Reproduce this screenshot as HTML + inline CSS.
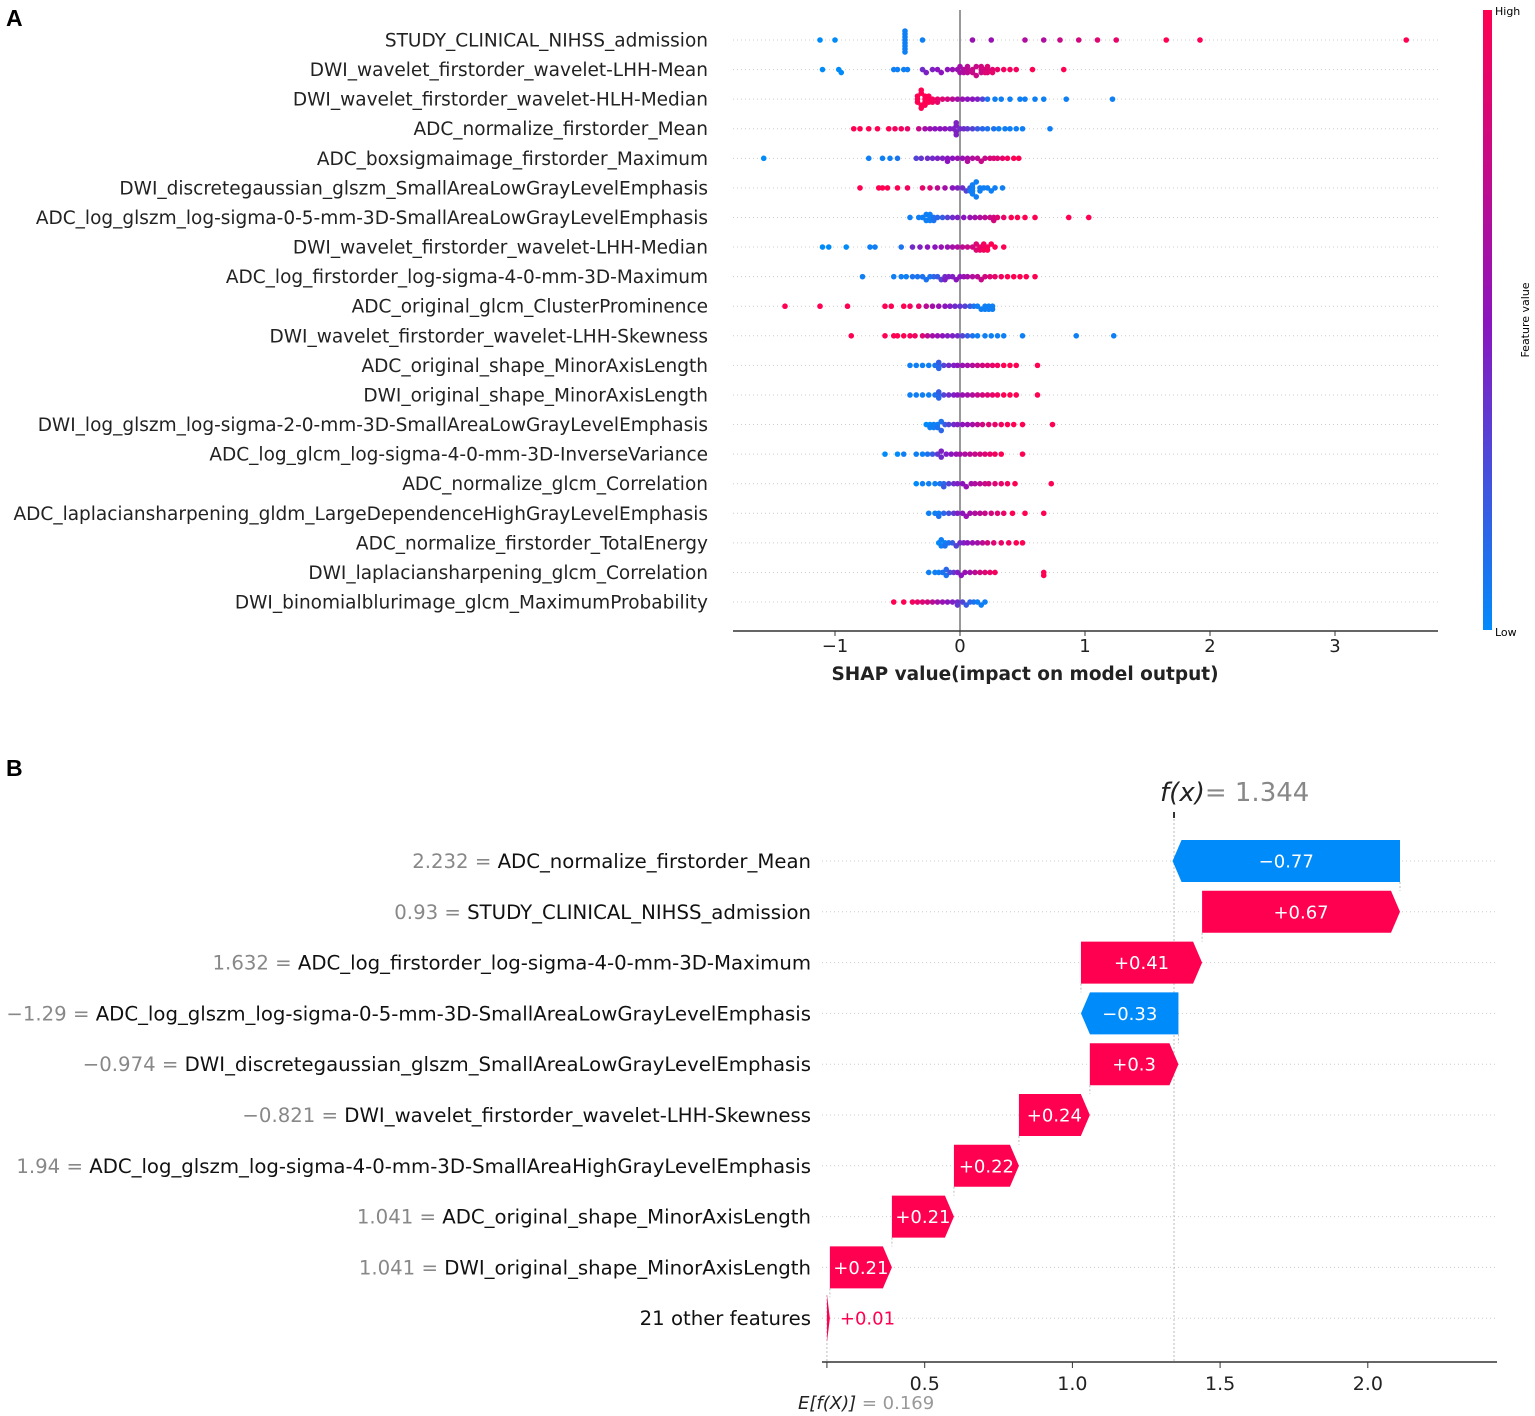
<!DOCTYPE html>
<html><head><meta charset="utf-8">
<style>
html,body{margin:0;padding:0;background:#fff;}
svg{display:block;font-family:"DejaVu Sans","Liberation Sans",sans-serif;}
</style></head>
<body>
<svg id="fig" width="1535" height="1416" viewBox="0 0 1535 1416" xmlns="http://www.w3.org/2000/svg">
<defs>
<linearGradient id="cbar" x1="0" y1="1" x2="0" y2="0">
<stop offset="0" stop-color="#008bfb"/><stop offset="0.5" stop-color="#8c14be"/><stop offset="1" stop-color="#ff0052"/>
</linearGradient>
</defs>
<text x="6" y="26" font-size="23" font-weight="bold" font-family="Liberation Sans, sans-serif">A</text>
<text x="6" y="776" font-size="23" font-weight="bold" font-family="Liberation Sans, sans-serif">B</text>
<g id="pa"></g>
<g id="pb"></g>
<rect x="1483" y="10" width="9" height="620" fill="url(#cbar)"/>
<text x="1495" y="15" font-size="11">High</text>
<text x="1495" y="636" font-size="11">Low</text>
<text transform="translate(1529,320) rotate(-90)" text-anchor="middle" font-size="11">Feature value</text>
</svg>
<script>
const featuresA = ["STUDY_CLINICAL_NIHSS_admission","DWI_wavelet_firstorder_wavelet-LHH-Mean","DWI_wavelet_firstorder_wavelet-HLH-Median","ADC_normalize_firstorder_Mean","ADC_boxsigmaimage_firstorder_Maximum","DWI_discretegaussian_glszm_SmallAreaLowGrayLevelEmphasis","ADC_log_glszm_log-sigma-0-5-mm-3D-SmallAreaLowGrayLevelEmphasis","DWI_wavelet_firstorder_wavelet-LHH-Median","ADC_log_firstorder_log-sigma-4-0-mm-3D-Maximum","ADC_original_glcm_ClusterProminence","DWI_wavelet_firstorder_wavelet-LHH-Skewness","ADC_original_shape_MinorAxisLength","DWI_original_shape_MinorAxisLength","DWI_log_glszm_log-sigma-2-0-mm-3D-SmallAreaLowGrayLevelEmphasis","ADC_log_glcm_log-sigma-4-0-mm-3D-InverseVariance","ADC_normalize_glcm_Correlation","ADC_laplaciansharpening_gldm_LargeDependenceHighGrayLevelEmphasis","ADC_normalize_firstorder_TotalEnergy","DWI_laplaciansharpening_glcm_Correlation","DWI_binomialblurimage_glcm_MaximumProbability"];
const shapVals = [
[-1.12,-1.0,-0.44,-0.44,-0.44,-0.44,-0.44,-0.44,-0.44,-0.44,-0.3,0.1,0.25,0.52,0.67,0.8,0.95,1.1,1.25,1.65,1.92,3.57],
[-1.1,-0.97,-0.95,-0.53,-0.5,-0.45,-0.42,-0.3,-0.27,-0.22,-0.18,-0.15,-0.1,-0.06,-0.02,0,0,0.03,0.03,0.06,0.06,0.06,0.1,0.1,0.13,0.13,0.17,0.17,0.17,0.2,0.2,0.22,0.22,0.22,0.26,0.26,0.3,0.35,0.4,0.45,0.58,0.83],
[-0.34,-0.34,-0.34,-0.31,-0.31,-0.31,-0.31,-0.28,-0.28,-0.28,-0.28,-0.25,-0.25,-0.25,-0.22,-0.22,-0.18,-0.18,-0.14,-0.1,-0.06,-0.02,0.02,0.06,0.1,0.14,0.18,0.22,0.28,0.33,0.4,0.48,0.52,0.6,0.67,0.85,1.22],
[-0.85,-0.8,-0.73,-0.66,-0.57,-0.52,-0.47,-0.42,-0.33,-0.28,-0.24,-0.2,-0.16,-0.12,-0.08,-0.05,-0.03,-0.03,-0.03,-0.03,0,0.03,0.06,0.1,0.14,0.18,0.22,0.27,0.31,0.36,0.4,0.45,0.5,0.72],
[-1.57,-0.73,-0.62,-0.56,-0.5,-0.35,-0.31,-0.26,-0.22,-0.18,-0.14,-0.1,-0.1,-0.06,-0.02,0.02,0.06,0.06,0.1,0.14,0.17,0.2,0.24,0.27,0.3,0.34,0.38,0.43,0.47],
[-0.8,-0.65,-0.62,-0.58,-0.5,-0.42,-0.3,-0.24,-0.18,-0.12,-0.06,-0.02,0.02,0.05,0.08,0.08,0.1,0.1,0.1,0.1,0.13,0.13,0.16,0.16,0.19,0.22,0.25,0.28,0.34],
[-0.4,-0.33,-0.3,-0.27,-0.27,-0.24,-0.24,-0.24,-0.21,-0.21,-0.18,-0.14,-0.1,-0.06,-0.02,0.03,0.08,0.12,0.16,0.2,0.24,0.27,0.27,0.3,0.35,0.41,0.46,0.52,0.6,0.87,1.03],
[-1.1,-1.05,-0.91,-0.72,-0.68,-0.47,-0.38,-0.32,-0.26,-0.2,-0.15,-0.1,-0.06,-0.02,0.02,0.06,0.1,0.13,0.13,0.16,0.16,0.19,0.19,0.19,0.22,0.22,0.25,0.28,0.35],
[-0.78,-0.53,-0.47,-0.43,-0.38,-0.34,-0.3,-0.27,-0.24,-0.21,-0.18,-0.15,-0.12,-0.12,-0.09,-0.06,-0.03,0,0.03,0.06,0.1,0.14,0.17,0.2,0.24,0.28,0.33,0.38,0.43,0.48,0.53,0.6],
[-1.4,-1.12,-0.9,-0.6,-0.55,-0.45,-0.4,-0.33,-0.27,-0.22,-0.17,-0.12,-0.08,-0.04,0,0.04,0.08,0.11,0.14,0.17,0.2,0.2,0.23,0.23,0.26,0.26],
[-0.87,-0.6,-0.53,-0.5,-0.45,-0.4,-0.36,-0.3,-0.26,-0.22,-0.18,-0.14,-0.1,-0.06,-0.02,0.02,0.06,0.1,0.14,0.2,0.25,0.3,0.35,0.5,0.93,1.23],
[-0.4,-0.35,-0.3,-0.25,-0.2,-0.17,-0.17,-0.17,-0.13,-0.09,-0.05,-0.02,0.02,0.06,0.1,0.14,0.18,0.22,0.26,0.3,0.35,0.4,0.45,0.62],
[-0.4,-0.35,-0.3,-0.25,-0.2,-0.17,-0.17,-0.17,-0.13,-0.09,-0.05,-0.02,0.02,0.06,0.1,0.14,0.18,0.22,0.26,0.3,0.35,0.4,0.45,0.62],
[-0.27,-0.24,-0.24,-0.21,-0.21,-0.18,-0.18,-0.15,-0.15,-0.12,-0.09,-0.05,-0.02,0.02,0.06,0.1,0.14,0.18,0.23,0.28,0.33,0.38,0.43,0.5,0.74],
[-0.6,-0.5,-0.45,-0.35,-0.3,-0.26,-0.22,-0.18,-0.15,-0.15,-0.11,-0.07,-0.03,0,0.04,0.08,0.12,0.16,0.2,0.24,0.28,0.33,0.5],
[-0.35,-0.3,-0.25,-0.2,-0.16,-0.13,-0.13,-0.09,-0.05,-0.02,0.02,0.05,0.09,0.12,0.16,0.2,0.23,0.28,0.33,0.38,0.44,0.73],
[-0.25,-0.2,-0.17,-0.17,-0.13,-0.09,-0.05,-0.02,0.02,0.05,0.08,0.12,0.16,0.2,0.25,0.3,0.35,0.42,0.52,0.67],
[-0.17,-0.15,-0.15,-0.12,-0.12,-0.09,-0.06,-0.03,0,0.03,0.06,0.1,0.14,0.18,0.22,0.27,0.33,0.39,0.45,0.5],
[-0.25,-0.2,-0.17,-0.14,-0.11,-0.11,-0.08,-0.05,-0.02,0.01,0.04,0.08,0.12,0.16,0.2,0.24,0.28,0.67,0.67],
[-0.53,-0.45,-0.38,-0.34,-0.3,-0.26,-0.22,-0.18,-0.14,-0.1,-0.06,-0.02,-0.02,0.02,0.05,0.08,0.11,0.14,0.17,0.2]
];
const featVals = [
[0,0,0.05,0.05,0.05,0.05,0.05,0.05,0.05,0.05,0.05,0.55,0.55,0.65,0.65,0.75,0.8,0.85,0.9,1,1,1],
[0,0,0,0.05,0.05,0.05,0.05,0.4,0.45,0.45,0.5,0.5,0.5,0.55,0.55,0.6,0.6,0.65,0.65,0.7,0.7,0.7,0.75,0.75,0.75,0.75,0.8,0.75,0.8,0.8,0.85,0.8,0.85,0.85,0.85,0.9,0.9,0.95,0.95,0.95,1,1],
[1,1,1,1,1,1,1,1,1,1,1,1,1,1,0.95,0.95,0.9,0.9,0.85,0.8,0.7,0.6,0.55,0.5,0.5,0.45,0.3,0.1,0.05,0.05,0.05,0.05,0.05,0.05,0.05,0.05,0.05],
[1,1,1,1,1,0.95,0.95,0.9,0.75,0.6,0.55,0.5,0.5,0.5,0.45,0.45,0.45,0.45,0.45,0.45,0.4,0.4,0.35,0.3,0.2,0.15,0.1,0.1,0.05,0.05,0.05,0.05,0.05,0.05],
[0,0.05,0.05,0.05,0.1,0.3,0.35,0.4,0.4,0.45,0.45,0.5,0.5,0.5,0.55,0.55,0.6,0.65,0.65,0.7,0.75,0.75,0.8,0.85,0.85,0.9,0.95,1,1],
[1,1,1,1,1,0.95,0.9,0.85,0.7,0.6,0.5,0.45,0.4,0.3,0.2,0.1,0.05,0.05,0.05,0.05,0.05,0.05,0.05,0.05,0.05,0.05,0.05,0.05,0.05],
[0.05,0.05,0.05,0.05,0.05,0.05,0.05,0.05,0.1,0.1,0.15,0.2,0.3,0.4,0.45,0.5,0.55,0.6,0.65,0.7,0.75,0.8,0.8,0.85,0.9,1,1,1,1,1,1],
[0,0,0,0.05,0.05,0.1,0.4,0.45,0.5,0.5,0.55,0.55,0.6,0.65,0.7,0.75,0.8,0.85,0.85,0.9,0.9,0.9,0.95,0.95,0.95,1,1,1,1],
[0.05,0.05,0.05,0.05,0.1,0.1,0.1,0.1,0.1,0.15,0.2,0.3,0.4,0.45,0.45,0.45,0.5,0.5,0.55,0.6,0.65,0.7,0.75,0.8,0.85,0.9,0.95,1,1,1,1,1],
[1,1,1,1,1,1,0.95,0.9,0.7,0.6,0.55,0.5,0.45,0.4,0.35,0.3,0.2,0.1,0.05,0.05,0.05,0.05,0.05,0.05,0.05,0.05],
[1,1,1,1,1,0.95,0.95,0.85,0.7,0.6,0.55,0.5,0.45,0.45,0.4,0.3,0.2,0.1,0.05,0.05,0.05,0.05,0.05,0.05,0.05,0.05],
[0.05,0.05,0.05,0.05,0.1,0.1,0.15,0.2,0.3,0.4,0.45,0.5,0.55,0.6,0.65,0.75,0.8,0.85,0.9,0.95,1,1,1,1],
[0.05,0.05,0.05,0.05,0.1,0.1,0.15,0.2,0.3,0.4,0.45,0.5,0.55,0.6,0.65,0.75,0.8,0.85,0.9,0.95,1,1,1,1],
[0,0,0.05,0.05,0.05,0.05,0.1,0.1,0.15,0.2,0.3,0.4,0.45,0.5,0.55,0.6,0.7,0.8,0.85,0.9,0.95,1,1,1,1],
[0,0,0.05,0.05,0.05,0.1,0.2,0.35,0.4,0.45,0.45,0.5,0.55,0.6,0.65,0.7,0.75,0.8,0.85,0.9,0.95,1,1],
[0,0.05,0.05,0.05,0.1,0.15,0.2,0.3,0.4,0.45,0.5,0.55,0.6,0.65,0.7,0.75,0.8,0.85,0.9,0.95,1,1],
[0.05,0.05,0.05,0.1,0.15,0.25,0.35,0.45,0.5,0.55,0.6,0.65,0.7,0.75,0.8,0.85,0.9,1,1,1],
[0,0.05,0.05,0.05,0.1,0.1,0.2,0.3,0.4,0.45,0.5,0.55,0.6,0.7,0.8,0.85,0.9,0.95,1,1],
[0.05,0.05,0.05,0.1,0.1,0.15,0.25,0.35,0.45,0.5,0.55,0.6,0.7,0.8,0.85,0.9,0.95,1,1],
[1,1,0.95,0.9,0.85,0.8,0.7,0.6,0.55,0.5,0.45,0.4,0.35,0.3,0.2,0.15,0.1,0.05,0.05,0.05]
];
const ticksA = [-1,0,1,2,3];

const featuresB = ["ADC_normalize_firstorder_Mean","STUDY_CLINICAL_NIHSS_admission","ADC_log_firstorder_log-sigma-4-0-mm-3D-Maximum","ADC_log_glszm_log-sigma-0-5-mm-3D-SmallAreaLowGrayLevelEmphasis","DWI_discretegaussian_glszm_SmallAreaLowGrayLevelEmphasis","DWI_wavelet_firstorder_wavelet-LHH-Skewness","ADC_log_glszm_log-sigma-4-0-mm-3D-SmallAreaHighGrayLevelEmphasis","ADC_original_shape_MinorAxisLength","DWI_original_shape_MinorAxisLength","21 other features"];
const featureValuesB = ["2.232","0.93","1.632","\u22121.29","\u22120.974","\u22120.821","1.94","1.041","1.041",""];
const contribB = [-0.77,0.67,0.41,-0.33,0.3,0.24,0.22,0.21,0.21,0.01];
const baseValue = 0.169;
const outputValue = 1.344;
const ticksB = [0.5,1.0,1.5,2.0];

const NS="http://www.w3.org/2000/svg";
function mk(parent,tag,attrs,text){const e=document.createElementNS(NS,tag);for(const k in attrs)e.setAttribute(k,attrs[k]);if(text!==undefined)e.textContent=text;parent.appendChild(e);return e;}
function lerp(a,b,t){return Math.round(a+(b-a)*t);}
function colorOf(v){const s=[[0,139,251],[140,20,190],[255,0,82]];let a,b,t;if(v<0.5){a=s[0];b=s[1];t=v/0.5;}else{a=s[1];b=s[2];t=(v-0.5)/0.5;}return `rgb(${lerp(a[0],b[0],t)},${lerp(a[1],b[1],t)},${lerp(a[2],b[2],t)})`;}

// ---- Panel A
const pa=document.getElementById('pa');
const xA=v=>960+v*125;
const rowY=i=>40+i*29.58;
featuresA.forEach((f,i)=>{
  const y=rowY(i);
  const g=mk(pa,'line',{x1:733,x2:1438,y1:y,y2:y,stroke:'#ccc','stroke-width':1,'stroke-dasharray':'1 3'});
  
  const t=mk(pa,'text',{x:708,y:y+6.5,'text-anchor':'end','font-size':18.5,fill:'#222'},f);
  
});
const zl=mk(pa,'line',{x1:960,x2:960,y1:10,y2:631,stroke:'#999','stroke-width':2});

shapVals.forEach((row,i)=>{
  const y=rowY(i);const bins={};
  row.forEach((v,j)=>{
    const px=xA(v);const b=Math.round(px/5);bins[b]=(bins[b]||0)+1;const k=bins[b]-1;
    let off=Math.ceil(k/2)*3*(k%2?1:-1);off=Math.max(-12,Math.min(12,off));
    const c=mk(pa,'circle',{cx:px,cy:y+off,r:2.8,fill:colorOf(featVals[i][j])});
    
  });
});
const axA=mk(pa,'line',{x1:733,x2:1438,y1:631,y2:631,stroke:'#333','stroke-width':1.5});

ticksA.forEach(t=>{
  const l=mk(pa,'line',{x1:xA(t),x2:xA(t),y1:631,y2:636,stroke:'#333'});
  
  const tx=mk(pa,'text',{x:xA(t),y:652,'text-anchor':'middle','font-size':18,fill:'#222'},t<0?'\u2212'+Math.abs(t):String(t));
  
});
const ttl=mk(pa,'text',{x:1025,y:680,'text-anchor':'middle','font-size':18.5,'font-weight':'bold',fill:'#222'},'SHAP value(impact on model output)');


// ---- Panel B
const pb=document.getElementById('pb');
const xB=v=>777+v*295.4;
const rowB=i=>861+i*50.8;
featuresB.forEach((f,i)=>{
  const y=rowB(i);
  const g=mk(pb,'line',{x1:822,x2:1497,y1:y,y2:y,stroke:'#ccc','stroke-width':1,'stroke-dasharray':'1 3'});
  
  const t=mk(pb,'text',{x:811,y:y+7,'text-anchor':'end','font-size':19.7,fill:'#111'});
  
  if(featureValuesB[i]){mk(t,'tspan',{fill:'#888'},featureValuesB[i]+' = ');}
  mk(t,'tspan',{},f);
});
const fxl=mk(pb,'line',{x1:xB(outputValue),x2:xB(outputValue),y1:815,y2:1362,stroke:'#bbb','stroke-dasharray':'2 2'});

const fxt=mk(pb,'line',{x1:xB(outputValue),x2:xB(outputValue),y1:812,y2:818,stroke:'#333','stroke-width':2});

const exl=mk(pb,'line',{x1:xB(baseValue),x2:xB(baseValue),y1:1295,y2:1362,stroke:'#bbb','stroke-dasharray':'2 2'});

let cum=baseValue;
for(let i=contribB.length-1;i>=0;i--){
  const v=contribB[i];const s=cum,e=cum+v;cum=e;
  const y=rowB(i);const h=i===contribB.length-1?48:42;const yt=y-h/2,yb=y+h/2;
  const x0=xB(s),x1=xB(e);const pos=v>=0;const col=pos?'#ff0051':'#008bfb';
  const head=Math.min(9,Math.abs(x1-x0));const dir=pos?1:-1;
  const pts=[[x0,yt],[x1-dir*head,yt],[x1,y],[x1-dir*head,yb],[x0,yb]].map(p=>p.join(',')).join(' ');
  const bar=mk(pb,'polygon',{points:pts,fill:col});
  
  if(i<contribB.length-1){
    const cl=mk(pb,'line',{x1:x0,x2:x0,y1:yb,y2:rowB(i+1)-21,stroke:'#bbb','stroke-dasharray':'2 2'});
    
  }
  const lab=(pos?'+':'\u2212')+String(Math.abs(v));
  const w=Math.abs(x1-x0);
  let lt;
  if(w>60){lt=mk(pb,'text',{x:(x0+x1)/2,y:y+6.5,'text-anchor':'middle','font-size':18,fill:'#fff'},lab);}
  else{lt=mk(pb,'text',{x:Math.max(x0,x1)+10,y:y+6.5,'text-anchor':'start','font-size':18,fill:col},lab);}
  
}
const axB=mk(pb,'line',{x1:822,x2:1497,y1:1362,y2:1362,stroke:'#333','stroke-width':1.5});

ticksB.concat([baseValue]).forEach(t=>{
  const l=mk(pb,'line',{x1:xB(t),x2:xB(t),y1:1362,y2:1368,stroke:'#333'});
  
});
ticksB.forEach(t=>{
  const tx=mk(pb,'text',{x:xB(t),y:1390,'text-anchor':'middle','font-size':19,fill:'#222'},t.toFixed(1));
  
});
const et=mk(pb,'text',{x:798,y:1409,'text-anchor':'start','font-size':18,fill:'#222'});

mk(et,'tspan',{'font-style':'italic'},'E[f(X)]');mk(et,'tspan',{fill:'#999'},' = '+baseValue);
const ft=mk(pb,'text',{x:xB(outputValue)-14,y:801,'font-size':26,fill:'#222'});

mk(ft,'tspan',{'font-style':'italic'},'f(x)');mk(ft,'tspan',{fill:'#888'},'= '+outputValue);
</script>
</body></html>
